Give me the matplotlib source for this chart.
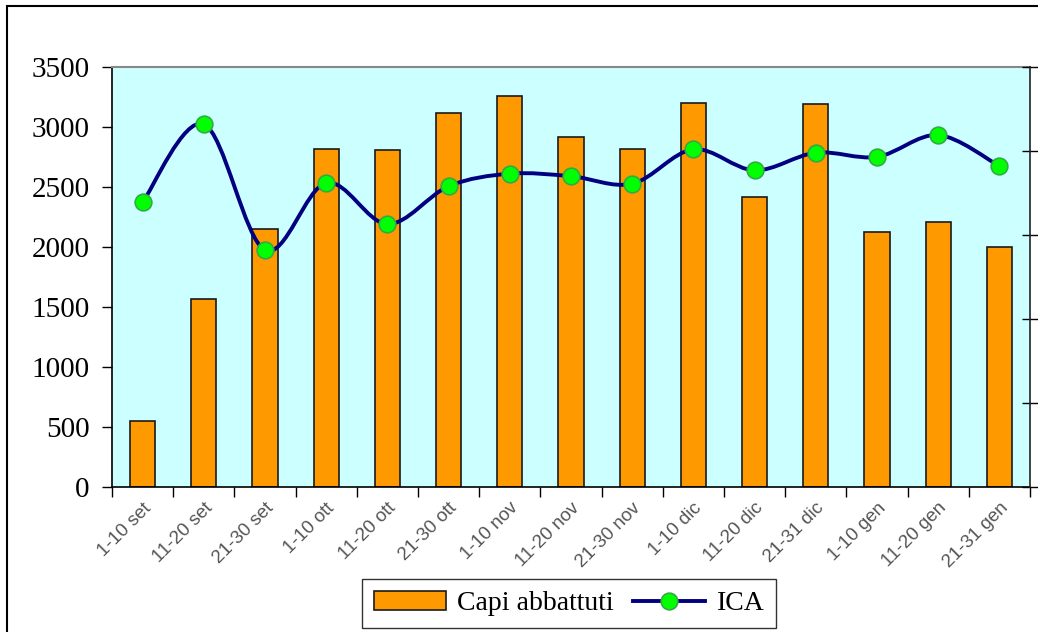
import matplotlib
matplotlib.use("Agg")
import matplotlib.pyplot as plt
from matplotlib.path import Path
from matplotlib.patches import PathPatch, Rectangle
from matplotlib.lines import Line2D
import numpy as np

categories = ["1-10 set", "11-20 set", "21-30 set", "1-10 ott", "11-20 ott", "21-30 ott",
              "1-10 nov", "11-20 nov", "21-30 nov", "1-10 dic", "11-20 dic", "21-31 dic",
              "1-10 gen", "11-20 gen", "21-31 gen"]
capi_abbattuti = [550, 1570, 2150, 2820, 2810, 3120, 3260, 2920, 2820, 3200, 2420, 3190, 2125, 2210, 2000]
ica = [3.39, 4.32, 2.82, 3.62, 3.13, 3.58, 3.73, 3.70, 3.61, 4.02, 3.77, 3.98, 3.93, 4.19, 3.82]
left_ticks = [0, 500, 1000, 1500, 2000, 2500, 3000, 3500]
right_ticks = [0, 1, 2, 3, 4, 5]

W, H = 1038, 632
fig = plt.figure(figsize=(W / 100, H / 100), dpi=100)
fig.patch.set_facecolor("white")
ax = fig.add_axes([112 / W, 1 - 487 / H, (1030 - 112) / W, (487 - 67) / H])
ax.set_facecolor("#ccffff")

x = np.arange(len(categories))
ax.bar(x, capi_abbattuti, width=0.41, color="#ff9900", edgecolor="#1a1a1a", linewidth=1.2, zorder=2)
ax.set_xlim(-0.5, len(categories) - 0.5)
ax.set_ylim(0, 3500)
ax.set_yticks(left_ticks)
ax.set_yticklabels([str(t) for t in left_ticks], fontfamily="Liberation Serif", fontsize=21)
ax.tick_params(axis="y", direction="out", length=7, width=1, pad=9)

# x ticks: marks at boundaries, labels at centres
ax.set_xticks(np.arange(len(categories) + 1) - 0.5)
ax.set_xticklabels([])
ax.tick_params(axis="x", which="major", direction="out", length=7, width=1)
ax.set_xticks(x, minor=True)
ax.set_xticklabels(categories, minor=True, rotation=45, ha="right", va="top",
                   rotation_mode="anchor", fontfamily="Liberation Sans", fontsize=13.5, color="#555555")
ax.tick_params(axis="x", which="minor", length=0, pad=9)

for s in ["left", "bottom"]:
    ax.spines[s].set_color("black")
    ax.spines[s].set_linewidth(1.2)
ax.spines["top"].set_color("#888888")
ax.spines["top"].set_linewidth(1.5)
ax.spines["right"].set_visible(False)

ax2 = ax.twinx()
ax2.set_ylim(0, 5)
ax2.set_yticks(right_ticks)
ax2.set_yticklabels([])
ax2.tick_params(axis="y", direction="inout", length=12, width=1)
for s in ["left", "bottom", "top"]:
    ax2.spines[s].set_visible(False)
ax2.spines["right"].set_color("#222222")
ax2.spines["right"].set_linewidth(1.2)

# smoothed line (Catmull-Rom style Bezier through the data points)
pts = np.column_stack([x, ica]).astype(float)
verts = [tuple(pts[0])]
codes = [Path.MOVETO]
n = len(pts)
for i in range(n - 1):
    p0 = pts[i - 1] if i > 0 else pts[i]
    p1 = pts[i]
    p2 = pts[i + 1]
    p3 = pts[i + 2] if i + 2 < n else pts[i + 1]
    c1 = p1 + (p2 - p0) / 6.0
    c2 = p2 - (p3 - p1) / 6.0
    verts += [tuple(c1), tuple(c2), tuple(p2)]
    codes += [Path.CURVE4, Path.CURVE4, Path.CURVE4]
ax2.add_patch(PathPatch(Path(verts, codes), fill=False, edgecolor="#000080", linewidth=2.8, zorder=3))
ax2.plot(x, ica, ls="none", marker="o", markersize=12, markerfacecolor="#00ff00",
         markeredgecolor="#33aa44", markeredgewidth=1.2, zorder=4)
ax2.set_xlim(-0.5, len(categories) - 0.5)

# legend
h_bar = Rectangle((0, 0), 1, 1, facecolor="#ff9900", edgecolor="#1a1a1a", linewidth=1.2)
h_line = Line2D([], [], color="#000080", linewidth=2.8, marker="o", markersize=12,
                markerfacecolor="#00ff00", markeredgecolor="#33aa44", markeredgewidth=1.2)
leg = fig.legend([h_bar, h_line], ["Capi abbattuti", "ICA"], loc="lower center",
                 bbox_to_anchor=(569 / W, 4 / H), ncol=2, frameon=True, fancybox=False,
                 prop={"family": "Liberation Serif", "size": 20}, handlelength=2.6,
                 handleheight=0.7, columnspacing=0.7, handletextpad=0.4, borderpad=0.42,
                 borderaxespad=0)
leg.get_frame().set_edgecolor("black")
leg.get_frame().set_linewidth(1.0)

# figure border (top and left visible)
fig.patches.append(Rectangle((7 / W, -0.2), 1.2, 1 - 6 / H + 0.2, transform=fig.transFigure,
                             fill=False, edgecolor="black", linewidth=1.5, figure=fig))

fig.savefig("out.png", dpi=100)
